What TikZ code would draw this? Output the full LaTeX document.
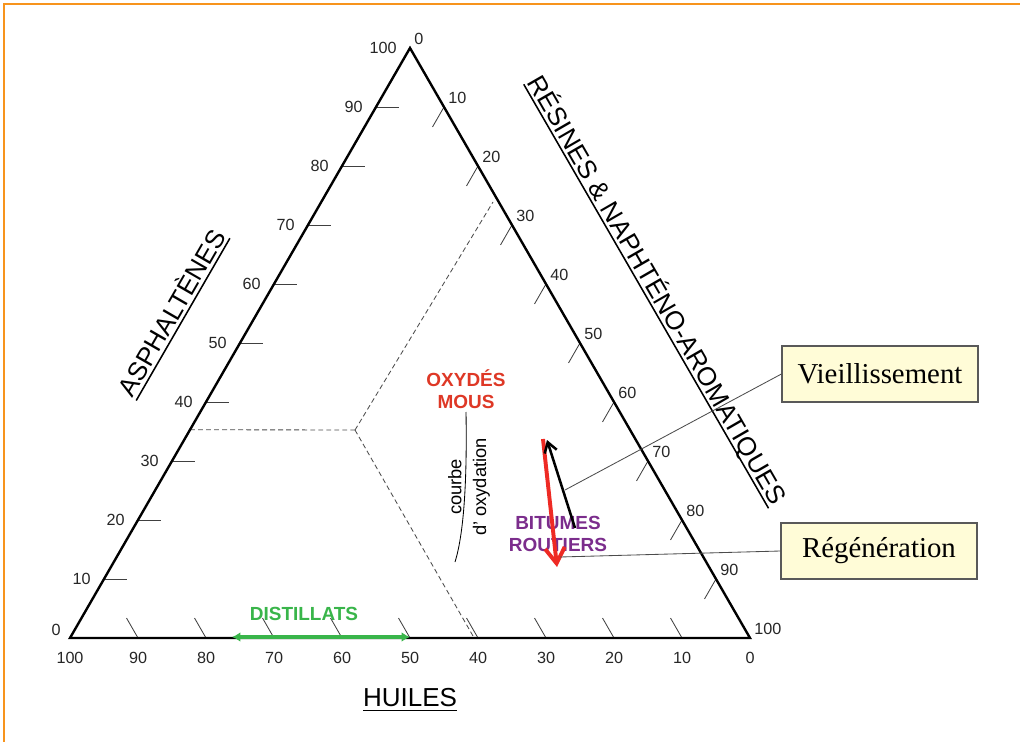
\documentclass[tikz,border=0pt]{standalone}
\usepackage{fontspec}
\setmainfont{Liberation Sans}
\newfontfamily\notefont{Liberation Serif}
\usetikzlibrary{calc,arrows.meta}
\definecolor{frameorange}{RGB}{247,148,29}
\definecolor{oxred}{RGB}{222,56,38}
\definecolor{arrowred}{RGB}{238,42,36}
\definecolor{bitpurple}{RGB}{123,45,140}
\definecolor{distgreen}{RGB}{57,181,74}
\definecolor{notefill}{RGB}{255,252,215}
\newcommand{\axisunder}[1]{\leavevmode\setbox0=\hbox{#1}\copy0\llap{\rule[-3.2pt]{\wd0}{1.1pt}}}
\tikzset{
  edge/.style={line width=1.7pt, line join=miter},
  tick/.style={line width=0.6pt, color=black!75},
  limit/.style={line width=0.6pt, color=black!70, dash pattern=on 3.5pt off 2.2pt},
  leader/.style={line width=0.6pt, color=black!70},
  num/.style={inner sep=0pt, text=black!85, font=\fontsize{11.5}{13}\selectfont},
  axistitle/.style={inner sep=0pt, font=\fontsize{18.5}{22}\selectfont},
  zone/.style={align=center, inner sep=0pt, font=\bfseries\fontsize{13.5}{15.5}\selectfont},
  note/.style={draw=black!65, line width=0.8pt, fill=notefill, minimum width=4.9cm,
    minimum height=1.4cm, inner sep=0pt, font=\notefont\fontsize{20.5}{24}\selectfont}
}

\begin{document}
\begin{tikzpicture}[x=0.025cm, y=-0.025cm]
	%%%%% START %%%%%
	\useasboundingbox (0,0) rectangle (1020,742);
	\draw[frameorange, line width=1.8pt] (4,742) -- (4,4) -- (1020,4);
	
	\coordinate (huiles) at (70,638);
	\coordinate (resines) at (750,638);
	\coordinate (asph) at (410,48);
	
	% zones
	\coordinate (centre) at (355,430);
	\draw[limit] ($(huiles)!0.353!(asph)$) -- (centre);
	\draw[limit] (centre) -- (493,202);
	\draw[limit] (centre) -- (473,636);
	
	% ticks
	\foreach \v in {10,20,...,90} {
		\draw[tick] ($(huiles)!\v/100!(asph)$) -- ++(23,0);
		\draw[tick] ($(asph)!\v/100!(resines)$) -- ++(-11.5,20);
		\draw[tick] ($(resines)!\v/100!(huiles)$) -- ++(-11.5,-20);
	}
	
	\draw[edge] (huiles) -- (resines) -- (asph) -- cycle;
	
	% graduations
	\foreach \v in {10,20,...,100}
		\node[num, anchor=east] at ($(huiles)!\v/100!(asph)+(-13,0)$) {\v};
	\node[num, anchor=east] at ($(huiles)+(-9,-8)$) {0};
	\foreach \v in {0,10,...,100} {
		\node[num, anchor=south west] at ($(asph)!\v/100!(resines)+(4,-3)$) {\v};
		\node[num, anchor=north] at ($(resines)!\v/100!(huiles)+(0,14)$) {\v};
	}
	
	% axis titles
	\node[axistitle, rotate=60] (t asph) at (172,313) {\axisunder{ASPHALTÈNES}};
	\node[axistitle, rotate=-60] (t res) at (657,290) {\axisunder{RÉSINES \& NAPHTÉNO-AROMATIQUES}};
	\node[axistitle] (t huiles) at (410,700) {\axisunder{HUILES}};
	
	% families
	\node[zone, text=oxred] (oxydes) at (466,389) {OXYDÉS\\MOUS};
	\node[zone, text=bitpurple] (bitumes) at (558,534) {BITUMES\\ROUTIERS};
	\node[zone, text=distgreen] (distillats) at (304,614) {DISTILLATS};
	
	\coordinate (dist left) at (232,637);
	\coordinate (dist right) at (410,637);
	\draw[distgreen, line width=2.6pt, {Latex[length=6pt,width=7pt]}-{Latex[length=6pt,width=7pt]}] (dist left) -- (dist right);
	
	\draw[line width=0.6pt] (466,412) .. controls (467,470) and (465,530) .. (455,562);
	\node[rotate=90, align=center, inner sep=0pt, font=\fontsize{13}{17.5}\selectfont] (courbe) at (469,487) {courbe\\d' oxydation};
	
	% evolution
	\coordinate (regen start) at (543,439);
	\coordinate (regen tip) at (557,567);
	\coordinate (vieil start) at (575,528);
	\coordinate (vieil tip) at (547,440);
	\draw[arrowred, line width=2.8pt, -{Straight Barb[length=11pt,width=14pt]}] (regen start) -- (regen tip);
	\draw[black, line width=1.8pt, -{Straight Barb[length=7pt,width=9pt]}] (vieil start) -- (vieil tip);
	
	\node[note] (vieil) at (880,374) {Vieillissement};
	\node[note] (regen) at (879,551) {Régénération};
	\coordinate (vieil end) at (565,490);
	\coordinate (regen end) at (560,557);
	\draw[leader] (vieil.west) -- (vieil end);
	\draw[leader] (regen.west) -- (regen end);
	%%%%% END %%%%%
\end{tikzpicture}
\end{document}
